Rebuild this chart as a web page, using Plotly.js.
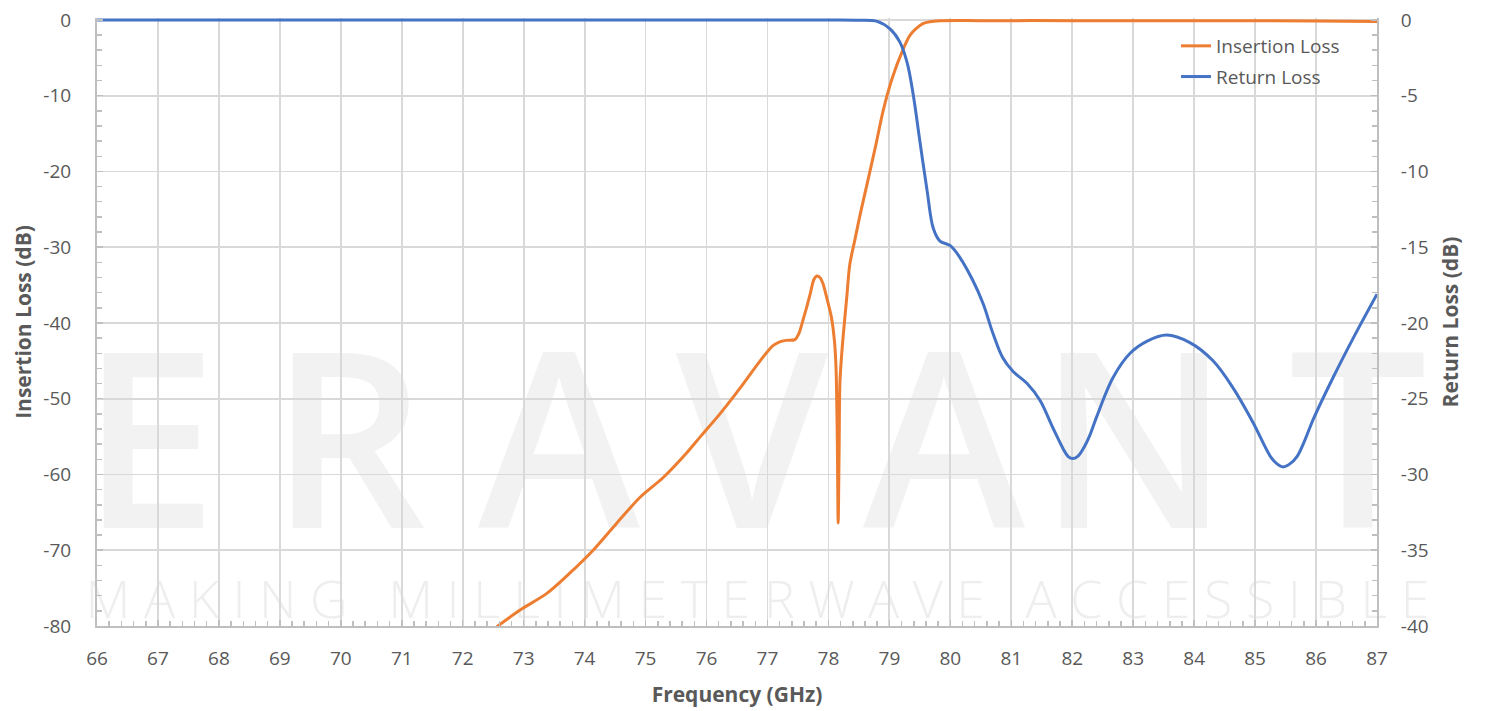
<!DOCTYPE html>
<html>
<head>
<meta charset="utf-8">
<script src="https://cdn.plot.ly/plotly-3.0.1.min.js"></script>
<style>
html,body{margin:0;padding:0;background:#fff;}
#chart{width:1487px;height:711px;}
</style>
</head>
<body>
<div id="chart"></div>
<script>
// Insertion Loss (left axis, dB)
const ilFreq = [72.56, 72.94, 73.38, 73.76, 74.14, 74.53, 74.91, 75.29, 75.68, 75.89, 76.22, 76.55, 76.88, 77.09, 77.2, 77.3, 77.45, 77.52, 77.58, 77.64, 77.70, 77.76, 77.81, 77.86, 77.91, 77.97, 78.05, 78.10, 78.125, 78.145, 78.16, 78.175, 78.19, 78.24, 78.30, 78.35, 78.44, 78.52, 78.63, 78.77, 78.9, 79.05, 79.22, 79.34, 79.55, 79.78, 80.5, 82, 84, 86, 87];
const ilVals = [-80.1, -77.9, -75.7, -73.0, -70.0, -66.4, -63.0, -60.4, -57.1, -55.1, -52.0, -48.6, -45.0, -43.0, -42.5, -42.3, -42.2, -41.3, -39.7, -38.0, -36.2, -34.3, -33.8, -34.0, -34.8, -36.6, -39.3, -42.5, -46.0, -55.0, -66.4, -57.0, -47.6, -41.9, -36.7, -32.3, -28.8, -25.7, -21.8, -16.8, -11.9, -7.6, -4.0, -2.0, -0.5, -0.15, -0.1, -0.1, -0.1, -0.15, -0.2];

// Return Loss (right axis, dB)
const rlFreq = [66, 78.0, 78.5, 78.8, 79.01, 79.17, 79.29, 79.39, 79.5, 79.62, 79.72, 79.83, 80.0, 80.16, 80.37, 80.54, 80.7, 80.86, 81.03, 81.26, 81.47, 81.68, 81.85, 81.93, 82.01, 82.09, 82.18, 82.29, 82.4, 82.67, 82.95, 83.23, 83.55, 83.93, 84.31, 84.64, 84.97, 85.25, 85.36, 85.46, 85.57, 85.69, 85.82, 85.95, 86.28, 86.61, 87.0];
const rlVals = [0, 0, -0.02, -0.1, -0.6, -1.45, -2.8, -4.9, -8.0, -11.3, -13.75, -14.6, -14.9, -15.7, -17.2, -18.75, -20.7, -22.3, -23.2, -24.0, -25.1, -26.9, -28.3, -28.8, -28.95, -28.8, -28.3, -27.4, -26.2, -23.6, -22.0, -21.2, -20.8, -21.3, -22.5, -24.3, -26.6, -28.8, -29.3, -29.5, -29.3, -28.8, -27.7, -26.4, -23.6, -21.0, -18.1];

// Tick labels
const xTickVals = [66, 67, 68, 69, 70, 71, 72, 73, 74, 75, 76, 77, 78, 79, 80, 81, 82, 83, 84, 85, 86, 87];
const yTickVals = [-80, -70, -60, -50, -40, -30, -20, -10, 0];
const yTickText = ["-80", "-70", "-60", "-50", "-40", "-30", "-20", "-10", "0"];
const y2TickVals = [-40, -35, -30, -25, -20, -15, -10, -5, 0];
const y2TickText = ["-40", "-35", "-30", "-25", "-20", "-15", "-10", "-5", "0"];

const seriesNames = ["Insertion Loss", "Return Loss"];
const xTitle = "Frequency (GHz)";
const yTitle = "Insertion Loss (dB)";
const y2Title = "Return Loss (dB)";
const watermarkLetters = ["E", "R", "A", "V", "A", "N", "T"];
const watermarkTagline = "M A K I N G   M I L L I M E T E R W A V E   A C C E S S I B L E";

const W = 1487, H = 711, L = 97, R = 110, T = 18, B = 85;
const pw = W - L - R, ph = H - T - B;
const px = v => (v - L) / pw;
const py = v => 1 - (v - T) / ph;

const letterCenters = [149, 348, 559, 752, 944, 1134, 1358];
const shapes = watermarkLetters.map((ch, i) => ({
  type: 'rect', xref: 'paper', yref: 'paper', layer: 'below',
  x0: px(letterCenters[i] - 60), x1: px(letterCenters[i] + 60),
  y0: py(540), y1: py(360),
  line: {width: 0}, fillcolor: 'rgba(0,0,0,0)',
  label: {text: ch, textposition: 'middle center',
    font: {family: 'Open Sans, sans-serif', size: 245, color: '#f2f2f2', weight: 600}}
}));
shapes.push({
  type: 'rect', xref: 'paper', yref: 'paper', layer: 'below',
  x0: px(80), x1: px(1435), y0: py(625), y1: py(578),
  line: {width: 0}, fillcolor: 'rgba(0,0,0,0)',
  label: {text: watermarkTagline, textposition: 'middle center',
    font: {family: 'Open Sans, sans-serif', size: 52, color: '#eeeeee', weight: 300}}
});

const fontFam = 'Open Sans, sans-serif';
const tc = '#595959';

const traces = [
  {x: ilFreq, y: ilVals, name: seriesNames[0], type: 'scatter', mode: 'lines',
   line: {color: '#ed7d31', width: 3, shape: 'spline', smoothing: 0.8}, yaxis: 'y', legendgroup: 'a'},
  {x: rlFreq, y: rlVals, name: seriesNames[1], type: 'scatter', mode: 'lines',
   line: {color: '#4472c4', width: 3, shape: 'spline', smoothing: 1.0}, yaxis: 'y2', legendgroup: 'b'}
];

const tickStyle = {ticks: 'inside', ticklen: 6, tickcolor: '#bfbfbf', tickwidth: 1.5};

const layout = {
  width: W, height: H,
  margin: {l: L, r: R, t: T, b: B, pad: 0},
  paper_bgcolor: '#ffffff', plot_bgcolor: 'rgba(0,0,0,0)',
  font: {family: fontFam, size: 19, color: tc},
  showlegend: true,
  legend: {x: px(1176), y: py(27), xanchor: 'left', yanchor: 'top',
    bgcolor: 'rgba(0,0,0,0)', font: {size: 19, color: tc}, tracegroupgap: 3},
  xaxis: Object.assign({
    range: [66, 87], tickmode: 'array', tickvals: xTickVals,
    showgrid: true, gridcolor: '#d9d9d9', gridwidth: 1.8,
    showline: true, linecolor: '#bfbfbf', linewidth: 2,
    minor: {dtick: 0.2, tick0: 66, ticks: 'inside', ticklen: 5, tickcolor: '#bfbfbf', tickwidth: 1.5, showgrid: false},
    ticklabelstandoff: 14, zeroline: false,
    tickfont: {size: 19, color: tc},
    title: {text: xTitle, font: {size: 21, color: tc, weight: 'bold'}, standoff: 18}
  }, tickStyle),
  yaxis: Object.assign({
    range: [-80, 0.25], tickmode: 'array', tickvals: yTickVals, ticktext: yTickText,
    showgrid: true, gridcolor: '#d9d9d9', gridwidth: 1.8,
    showline: true, linecolor: '#bfbfbf', linewidth: 2,
    minor: {dtick: 2, tick0: 0, ticks: 'inside', ticklen: 5, tickcolor: '#bfbfbf', tickwidth: 1.5, showgrid: false},
    ticklabelstandoff: 20, zeroline: false,
    tickfont: {size: 19, color: tc},
    title: {text: yTitle, font: {size: 21, color: tc, weight: 'bold'}, standoff: 6}
  }, tickStyle),
  yaxis2: Object.assign({
    range: [-40, 0.125], tickmode: 'array', tickvals: y2TickVals, ticktext: y2TickText,
    overlaying: 'y', side: 'right',
    showgrid: false,
    showline: true, linecolor: '#bfbfbf', linewidth: 2,
    minor: {dtick: 1, tick0: 0, ticks: 'inside', ticklen: 5, tickcolor: '#bfbfbf', tickwidth: 1.5, showgrid: false},
    ticklabelstandoff: 18, zeroline: false,
    tickfont: {size: 19, color: tc},
    title: {text: y2Title, font: {size: 21, color: tc, weight: 'bold'}, standoff: 16}
  }, tickStyle),
  shapes: shapes
};

Plotly.newPlot('chart', traces, layout, {displayModeBar: false, staticPlot: true});
</script>
</body>
</html>
